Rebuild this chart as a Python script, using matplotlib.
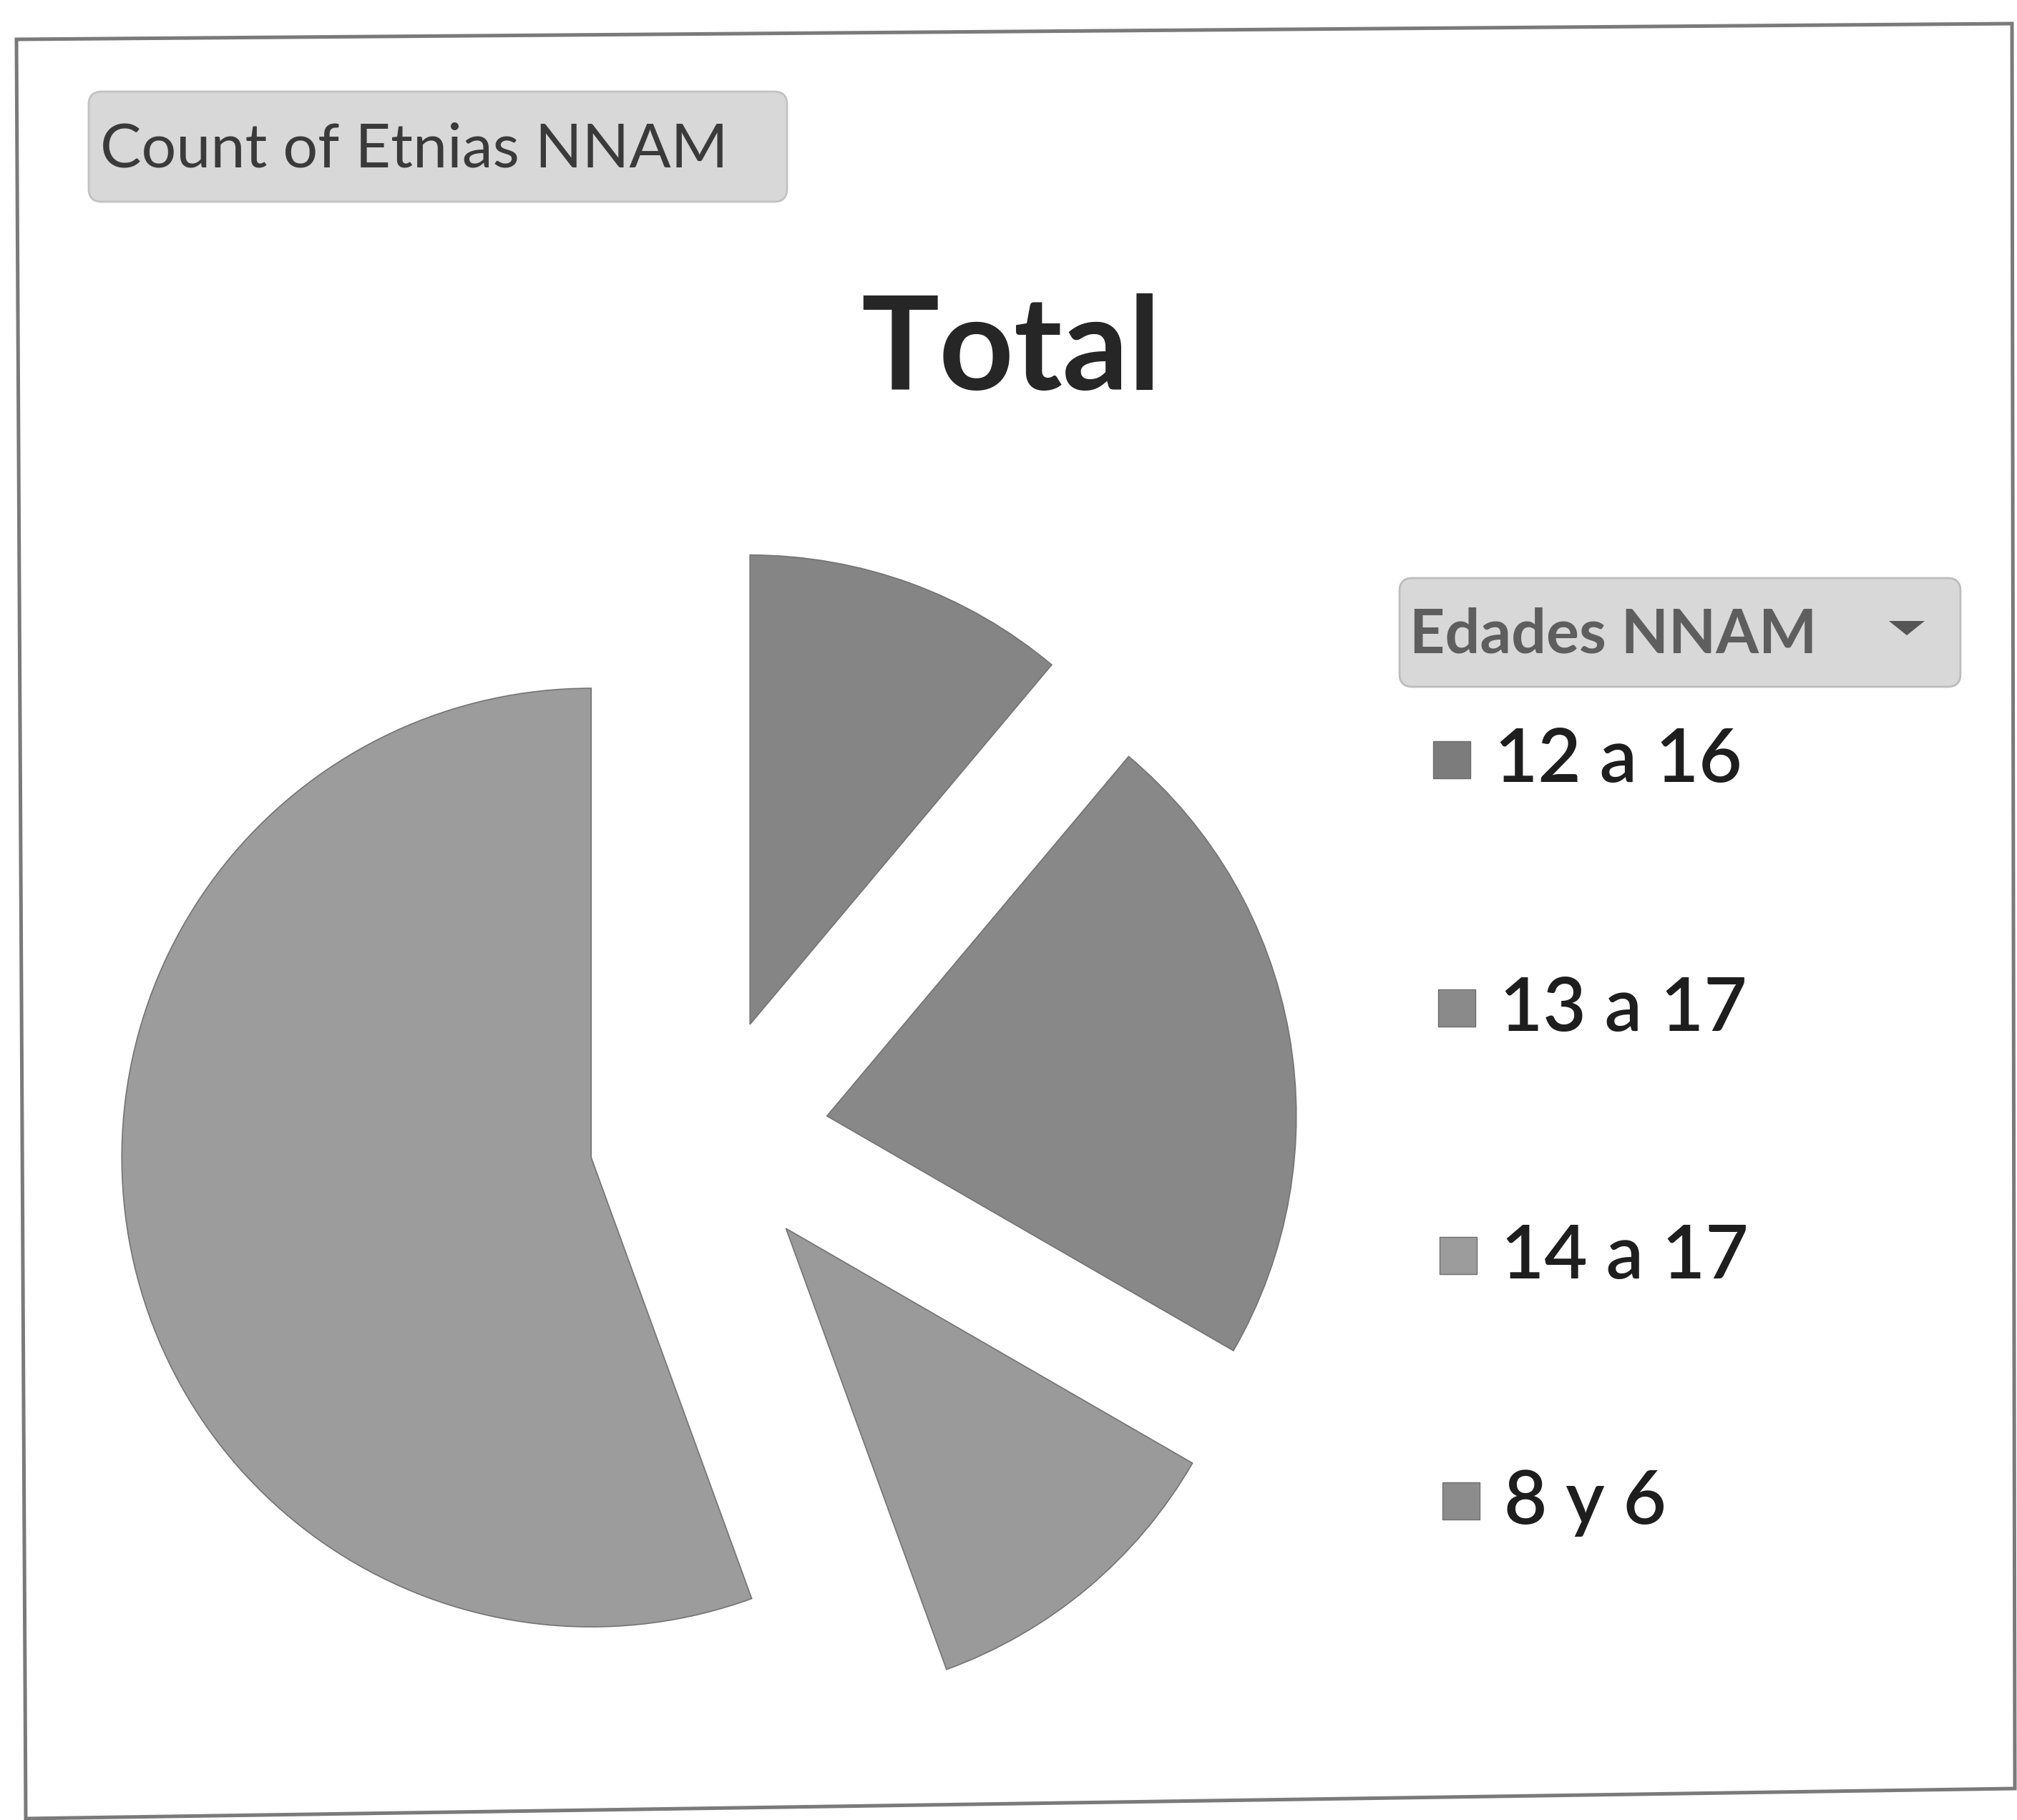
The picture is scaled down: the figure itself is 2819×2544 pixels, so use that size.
import matplotlib
matplotlib.use("Agg")
import matplotlib.pyplot as plt
from matplotlib.patches import FancyBboxPatch, Rectangle, Polygon

# ---- data ----
categories = ["12 a 16", "13 a 17", "14 a 17", "8 y 6"]
counts = [1, 2, 1, 5]
slice_colors = ["#858585", "#888888", "#9a9a9a", "#9c9c9c"]
legend_colors = ["#7c7c7c", "#8a8a8a", "#9c9c9c", "#8c8c8c"]
title = "Total"
field_button = "Count of Etnias NNAM"
legend_button = "Edades NNAM"

W, H = 2819, 2544
DPI = 100
plt.rcParams['font.family'] = ['Lato', 'DejaVu Sans']
fig = plt.figure(figsize=(W / DPI, H / DPI), dpi=DPI, facecolor="white")

# pie axes (pixel units, y up)
R = 656
axp = fig.add_axes([0, 0, 1, 1])
axp.pie(counts, colors=slice_colors, startangle=90, counterclock=False,
        center=(991, H - 1589), radius=R,
        explode=[0.255 * R] * len(counts),
        wedgeprops=dict(edgecolor="#747474", linewidth=1.2))
axp.set_xlim(0, W)
axp.set_ylim(0, H)
axp.set_aspect("auto")
axp.axis("off")

# overlay axes (pixel units, y down)
ax = fig.add_axes([0, 0, 1, 1], facecolor="none")
ax.set_xlim(0, W)
ax.set_ylim(H, 0)
ax.axis("off")

# chart frame (slightly skewed like the scan)
frame = Polygon([(23, 55), (2812, 33), (2816, 2500), (36, 2542)], closed=True,
                fill=False, edgecolor="#7a7a7a", linewidth=3.6)
ax.add_patch(frame)

# field button
btn = FancyBboxPatch((124, 128), 976, 154, boxstyle="round,pad=0,rounding_size=18",
                     facecolor="#d8d8d8", edgecolor="#c2c2c2", linewidth=2)
ax.add_patch(btn)
ax.text(140, 210, field_button, fontsize=62, color="#3a3a3a",
        ha="left", va="center")

# title
ax.text(1413, 493, title, fontsize=131, fontweight="bold", color="#262626",
        ha="center", va="center")

# legend button
lbtn = FancyBboxPatch((1956, 808), 784, 152, boxstyle="round,pad=0,rounding_size=18",
                      facecolor="#d8d8d8", edgecolor="#bdbdbd", linewidth=2)
ax.add_patch(lbtn)
ax.text(1970, 888, legend_button, fontsize=62, fontweight="bold", color="#5e5e5e",
        ha="left", va="center")
arrow = Polygon([(2640, 868), (2690, 868), (2665, 888)], closed=True,
                facecolor="#555555", edgecolor="none")
ax.add_patch(arrow)

# legend entries
ys = [1064, 1411, 1757, 2100]
xs_sq = [2003, 2010, 2012, 2016]
for lab, col, y, xs in zip(categories, legend_colors, ys, xs_sq):
    ax.add_patch(Rectangle((xs, y - 28), 52, 52, facecolor=col,
                           edgecolor="#6f6f6f", linewidth=1))
    ax.text(xs + 86, y, lab, fontsize=75, fontweight="semibold", color="#1e1e1e",
            ha="left", va="center")

fig.savefig("out.png", dpi=DPI, facecolor="white")
